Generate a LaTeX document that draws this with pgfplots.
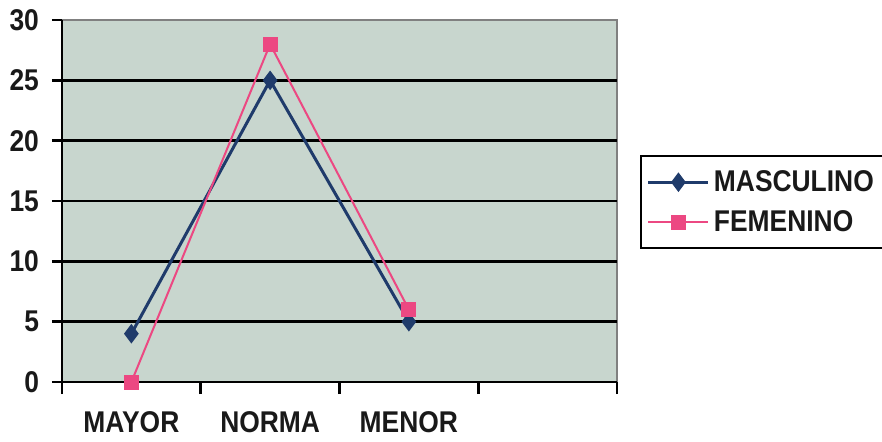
\documentclass[border=0pt]{standalone}
\usepackage{pgfplots}
\pgfplotsset{compat=1.18}
\usepackage{fontspec}
\setmainfont{Liberation Sans}[FakeStretch=0.88]
\definecolor{bgc}{RGB}{200,214,206}
\definecolor{navy}{RGB}{31,59,107}
\definecolor{pinkc}{RGB}{236,72,130}
\begin{document}
\begin{tikzpicture}
\begin{axis}[
  scale only axis,
  width=277.5pt, height=181pt,
  xmin=-0.5, xmax=3.5, ymin=0, ymax=30,
  axis lines=left,
  axis line style={-, black, line width=1.3pt},
  axis background/.style={fill=bgc, draw=gray, line width=0.8pt},
  xtick={0,1,2},
  xticklabels={MAYOR,NORMA,MENOR},
  major x tick style={draw=none},
  minor xtick={-0.5,0.5,1.5,2.5,3.5},
  minor x tick style={black, line width=1.3pt},
  minor tick length=6pt,
  tick align=outside,
  ytick={0,5,...,25},
  extra y ticks={30},
  extra y tick style={grid=none},
  y tick style={black, line width=1.3pt},
  major tick length=5pt,
  ymajorgrids,
  major grid style={black, line width=1.3pt},
  tick label style={font=\fontsize{15}{18}\selectfont\bfseries, text=black!90},
  /pgf/number format/assume math mode=true,
  xticklabel style={yshift=-6pt},
  yticklabel style={xshift=-3pt},
  legend style={at={(1.041,0.627)}, anchor=north west, draw=black, line width=1.2pt,
    font=\fontsize{15}{18}\selectfont\bfseries, text=black!90,
    inner xsep=3pt, inner ysep=5pt, row sep=4pt,
    /tikz/every even column/.append style={column sep=0pt}},
  legend cell align=left,
  legend image code/.code={\draw[#1] (0pt,0pt) -- (15pt,0pt) -- (30pt,0pt); \draw[#1, only marks] plot coordinates {(15pt,0pt)};},
]
\addplot[navy, line width=1.5pt, mark=diamond*, mark size=4.5pt, mark options={fill=navy, draw=navy, line width=0.5pt}]
  coordinates {(0,4) (1,25) (2,5)};
\addlegendentry{MASCULINO}
\addplot[pinkc, line width=1pt, mark=square*, mark size=3.5pt, mark options={fill=pinkc, draw=pinkc, line width=0.5pt}]
  coordinates {(0,0) (1,28) (2,6)};
\addlegendentry{FEMENINO}
\end{axis}
\pgfresetboundingbox
\path (-31pt,-29.5pt) rectangle (410pt,191pt);
\end{tikzpicture}
\end{document}
